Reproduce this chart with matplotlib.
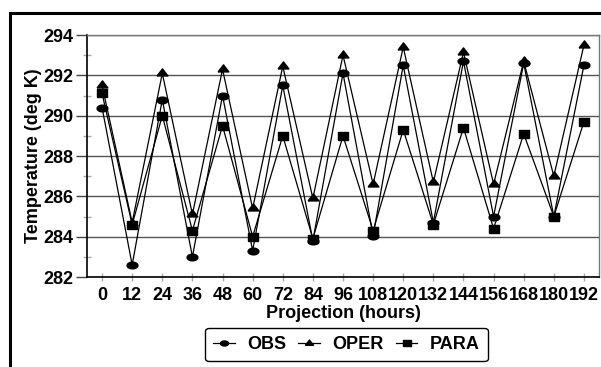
import numpy as np
import matplotlib
matplotlib.use("Agg")
import matplotlib.pyplot as plt
from matplotlib.patches import Rectangle

hours = [0, 12, 24, 36, 48, 60, 72, 84, 96, 108, 120, 132, 144, 156, 168, 180, 192]
hour_labels = [str(h) for h in hours]
obs = [290.4, 282.6, 290.8, 283.0, 291.0, 283.3, 291.5, 283.8, 292.1, 284.05,
       292.5, 284.7, 292.7, 285.0, 292.6, 285.0, 292.5]
oper = [291.5, 284.7, 292.1, 285.1, 292.3, 285.4, 292.45, 285.9, 293.0, 286.6,
        293.4, 286.7, 293.15, 286.6, 292.7, 287.0, 293.5]
para = [291.1, 284.6, 290.0, 284.3, 289.5, 284.0, 289.0, 283.9, 289.0, 284.3,
        289.3, 284.6, 289.4, 284.4, 289.1, 285.0, 289.7]
y_ticks = [282, 284, 286, 288, 290, 292, 294]

plt.rcParams['font.family'] = ['Liberation Sans', 'DejaVu Sans']
plt.rcParams['font.weight'] = 'bold'
FS = 13

t = np.linspace(0, 2 * np.pi, 41)
ellipse = list(zip(np.cos(t), 0.62 * np.sin(t)))
tri = [(-1, -0.45), (1, -0.45), (0, 0.85), (-1, -0.45)]
sq = [(-1, -0.8), (1, -0.8), (1, 0.8), (-1, 0.8), (-1, -0.8)]

fig = plt.figure(figsize=(6.01, 3.67), dpi=100)
ax = fig.add_axes([87 / 601, 1 - 277 / 367, 512 / 601, 242 / 367])

ax.plot(hours, obs, color='black', lw=0.9, marker=ellipse, ms=7.8, mfc='black', mec='black', label='OBS')
ax.plot(hours, oper, color='black', lw=0.9, marker=tri, ms=7.8, mfc='black', mec='black', label='OPER')
ax.plot(hours, para, color='black', lw=0.9, marker=sq, ms=7.2, mfc='black', mec='black', label='PARA')

ax.set_xlim(-6, 198)
ax.set_ylim(282, 294)
ax.set_xticks(hours)
ax.set_xticklabels(hour_labels, fontsize=FS, fontweight='bold')
ax.set_yticks(y_ticks)
ax.set_yticklabels([str(v) for v in y_ticks], fontsize=FS, fontweight='bold')
ax.set_yticks(np.arange(283, 294, 2), minor=True)
ax.tick_params(axis='y', which='major', direction='out', length=8, width=1, color='#444444', pad=1.5)
ax.tick_params(axis='y', which='minor', direction='inout', length=6, width=1, color='#aaaaaa')
ax.tick_params(axis='x', which='major', direction='inout', length=6, width=1, color='#aaaaaa', pad=4)

ax.yaxis.grid(True, which='major', color='#555555', lw=1)
ax.set_axisbelow(True)
for s in ['left', 'bottom']:
    ax.spines[s].set_color('black')
    ax.spines[s].set_linewidth(1.2)
for s in ['top', 'right']:
    ax.spines[s].set_color('#777777')
    ax.spines[s].set_linewidth(1)

ax.set_xlabel('Projection (hours)', fontsize=FS, fontweight='bold', labelpad=1)
ax.set_ylabel('Temperature (deg K)', fontsize=FS, fontweight='bold')
ax.yaxis.set_label_coords((42 - 87) / 512, 0.5)

leg = ax.legend(loc='center', bbox_to_anchor=(346.5 / 601, 1 - 344.5 / 367),
                bbox_transform=fig.transFigure, ncol=3,
                frameon=True, fancybox=True, edgecolor='black', framealpha=1,
                handlelength=1.2, handletextpad=0.7, columnspacing=0.65,
                markerscale=0.75, borderpad=0.45, prop={'weight': 'bold', 'size': FS})
leg.get_frame().set_linewidth(1)

fig.patches.append(Rectangle((9.5 / 601, -0.2), 1.2, 1.2 - 12.5 / 367,
                             transform=fig.transFigure, fill=False,
                             edgecolor='black', lw=2.2))

fig.savefig('out.png', dpi=100)
